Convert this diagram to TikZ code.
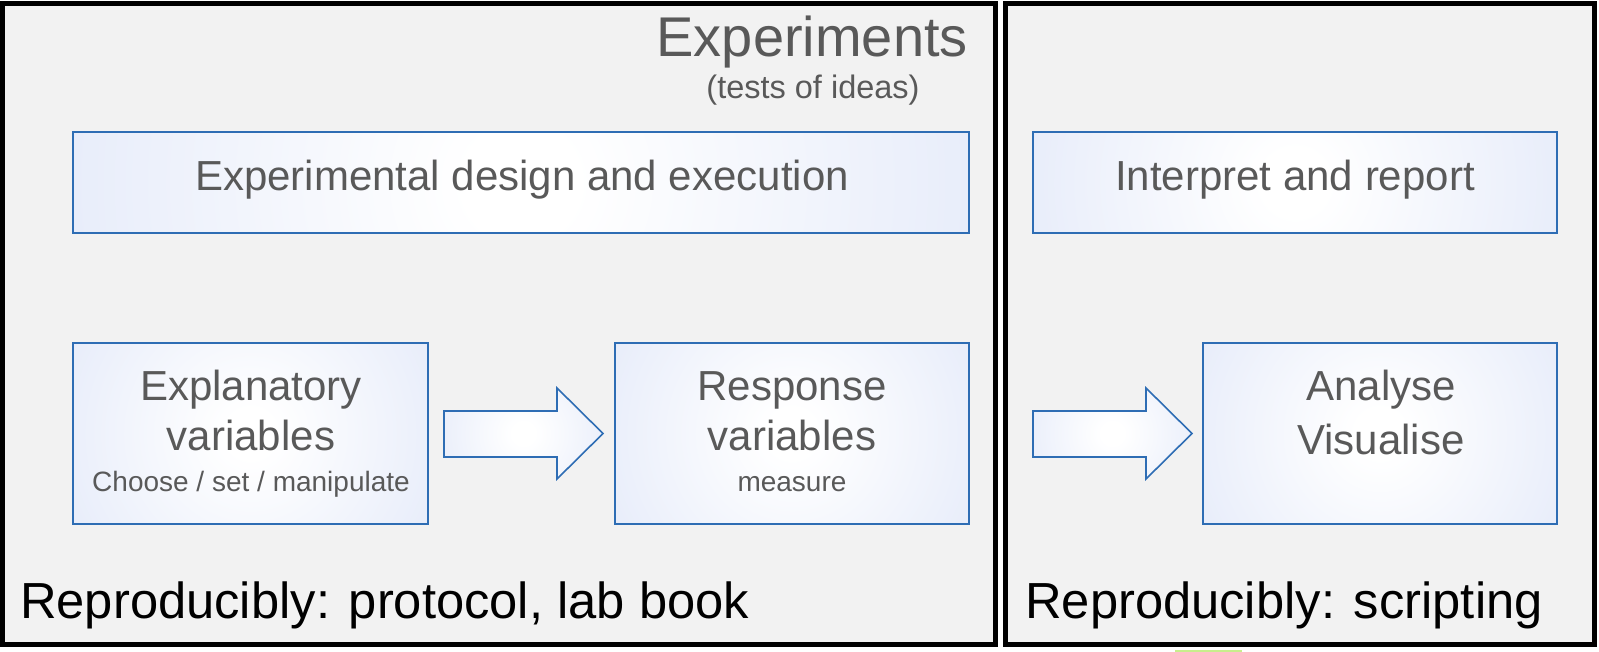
\documentclass[tikz,border=0pt]{standalone}
\usepackage{fontspec}
\setmainfont{Liberation Sans}
\usetikzlibrary{calc}
\definecolor{panelbg}{RGB}{242,242,242}
\definecolor{boxblue}{RGB}{46,109,180}
\definecolor{boxedge}{RGB}{214,223,246}
\definecolor{txtgray}{RGB}{89,89,89}
\definecolor{greenbit}{RGB}{200,238,140}
\pgfdeclareradialshading{boxshade}{\pgfpoint{0bp}{0bp}}{color(0bp)=(white); color(3bp)=(white); color(42bp)=(boxedge); color(50bp)=(boxedge)}
\tikzset{
  roundshade/.style={path picture={
    \path let \p1=($(path picture bounding box.north east)-(path picture bounding box.center)$),
              \n1={veclen(\x1,\y1)+1pt} in
      [shading=boxshade] (path picture bounding box.center) circle[radius=\n1];
  }}
}
\begin{document}
\begin{tikzpicture}[x=1pt,y=-1pt,
  panel/.style={draw=black, line width=5pt, fill=panelbg},
  box/.style={draw=boxblue, line width=1.6pt, roundshade, rectangle, inner sep=0pt},
  blockarrow/.style={draw=boxblue, line width=1.6pt, roundshade, line join=miter},
  big/.style={font=\fontsize{42}{48}\selectfont, text=txtgray, inner sep=0pt, anchor=base},
  small/.style={font=\fontsize{28}{32}\selectfont, text=txtgray, inner sep=0pt, anchor=base},
  foot/.style={font=\fontsize{50.7}{58}\selectfont, text=black, inner sep=0pt, anchor=base west}
]
\useasboundingbox (0,0) rectangle (1599,652);
% panels
\draw[panel] (2.5,3.5) rectangle (995.5,644.5);
\draw[panel] (1005.5,3.5) rectangle (1594.5,644.5);
\fill[greenbit] (1175,650) rectangle (1242,652);
% title
\node[font=\fontsize{56}{62}\selectfont, text=txtgray, inner sep=0pt, anchor=base east] (title) at (968,57) {Experiments};
\node[font=\fontsize{32.5}{36}\selectfont, text=txtgray, inner sep=0pt, anchor=base] (subtitle) at (813,99) {(tests of ideas)};
% boxes
\node[box, minimum width=896pt, minimum height=101pt] (design) at (521,182.5) {};
\node[box, minimum width=524pt, minimum height=101pt] (interp) at (1295,182.5) {};
\node[box, minimum width=355pt, minimum height=181pt] (expl) at (250.5,433.5) {};
\node[box, minimum width=354pt, minimum height=181pt] (resp) at (792,433.5) {};
\node[box, minimum width=354pt, minimum height=181pt] (anal) at (1380,433.5) {};
% box texts
\node[big] (designtxt) at (522,191) {Experimental design and execution};
\node[big] (interptxt) at (1295,191) {Interpret and report};
\node[big] (expl1) at (251,400) {Explanatory};
\node[big] (expl2) at (251,450) {variables};
\node[small] (expl3) at (251,491) {Choose / set / manipulate};
\node[big] (resp1) at (792,400) {Response};
\node[big] (resp2) at (792,450) {variables};
\node[small] (resp3) at (792,491) {measure};
\node[big] (anal1) at (1381,400) {Analyse};
\node[big] (anal2) at (1381,454) {Visualise};
% block arrows
\coordinate (a1) at (444,411);
\draw[blockarrow] (a1) -- (557,411) -- (557,388) -- (603,433.5) -- (557,479) -- (557,457) -- (444,457) -- cycle;
\coordinate (a2) at (1033,411);
\draw[blockarrow] (a2) -- (1146,411) -- (1146,388) -- (1192,433.5) -- (1146,479) -- (1146,457) -- (1033,457) -- cycle;
% footers
\node[foot] (foot1) at (20,618) {Reproducibly: protocol, lab book};
\node[foot] (foot2) at (1025,618) {Reproducibly: scripting};
\end{tikzpicture}
\end{document}
